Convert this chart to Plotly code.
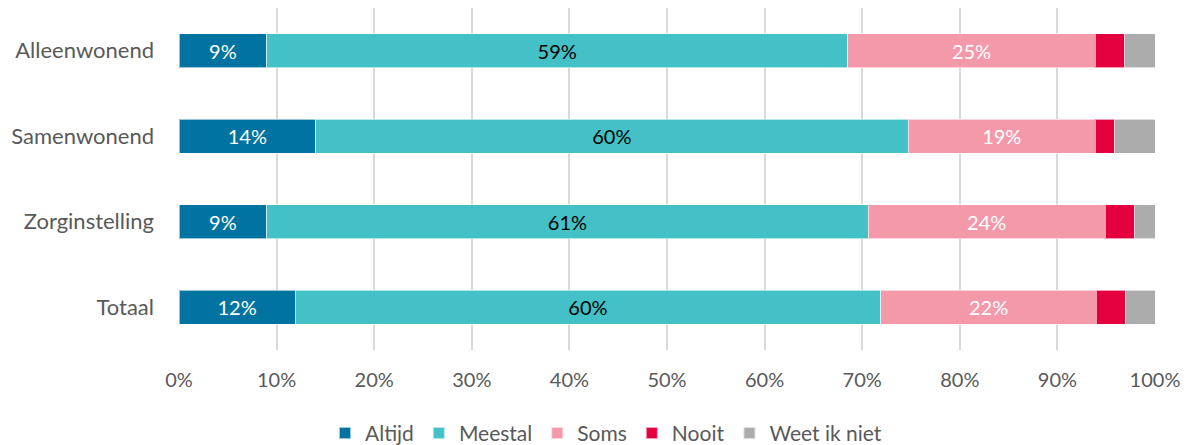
import plotly.graph_objects as go

categories = ["Alleenwonend", "Samenwonend", "Zorginstelling", "Totaal"]
series_names = ["Altijd", "Meestal", "Soms", "Nooit", "Weet ik niet"]
altijd = [9.0, 14.0, 9.0, 11.9]
meestal = [59.5, 60.7, 61.6, 60.0]
soms = [25.4, 19.2, 24.3, 22.1]
nooit = [3.0, 2.0, 3.0, 3.0]
weet = [3.1, 4.1, 2.1, 3.0]
altijd_labels = ["9%", "14%", "9%", "12%"]
meestal_labels = ["59%", "60%", "61%", "60%"]
soms_labels = ["25%", "19%", "24%", "22%"]
tick_vals = [0, 10, 20, 30, 40, 50, 60, 70, 80, 90, 100]
tick_text = [f"{v}%" for v in tick_vals]

colors = ["#0073A0", "#43C1C6", "#F499A9", "#E4003F", "#ADACAC"]
values = [altijd, meestal, soms, nooit, weet]
labels = [altijd_labels, meestal_labels, soms_labels, None, None]
text_colors = ["white", "black", "white", "white", "white"]

FONT = "Lato, 'Open Sans', sans-serif"

fig = go.Figure()
for name, vals, col, lab, tc in zip(series_names, values, colors, labels, text_colors):
    fig.add_trace(go.Bar(
        y=categories, x=vals, name=name, orientation="h",
        marker=dict(color=col, line=dict(color="rgba(255,255,255,0.6)", width=1)),
        text=lab, textposition="inside" if lab else "none",
        insidetextanchor="middle",
        textfont=dict(color=tc, size=20, family=FONT),
        hoverinfo="x+name",
    ))

fig.update_layout(
    barmode="stack",
    bargap=0.6,
    width=1181, height=437,
    margin=dict(l=171, r=34, t=0, b=95, autoexpand=False),
    plot_bgcolor="white", paper_bgcolor="white",
    font=dict(family=FONT, size=20, color="#595959"),
    uniformtext=dict(mode=False),
    legend=dict(orientation="h", x=0.4375, xanchor="center", y=-0.184, yanchor="top",
                font=dict(size=21, color="#595959"), traceorder="normal",
                itemsizing="constant"),
    xaxis=dict(range=[0, 100], tickvals=tick_vals, ticktext=tick_text,
               showgrid=True, gridcolor="#D9D9D9", gridwidth=2,
               zeroline=False, showline=False, ticklabelstandoff=16,
               automargin=False,
               tickfont=dict(size=20, color="#595959"), fixedrange=True),
    yaxis=dict(autorange="reversed", showgrid=False, zeroline=False,
               ticklabelstandoff=24, automargin=False,
               tickfont=dict(size=22, color="#595959"), fixedrange=True),
)

fig.write_html("out.html")
